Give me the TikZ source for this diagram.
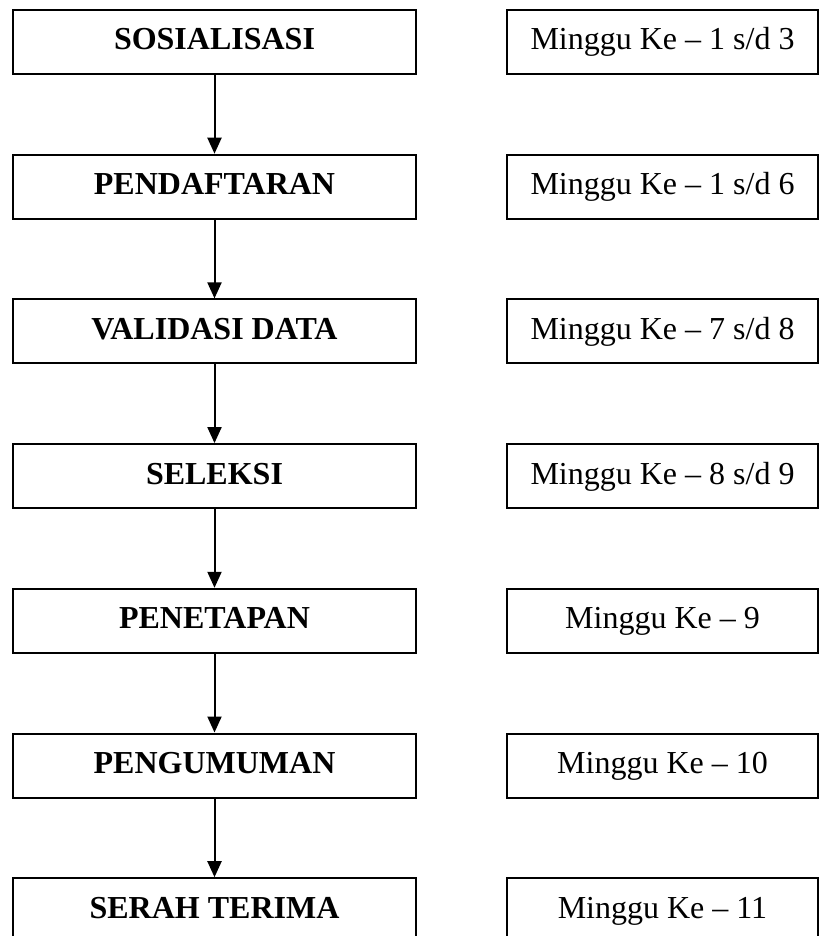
\documentclass[tikz,border=0pt]{standalone}
\usepackage{fontspec}
\setmainfont{Liberation Serif}
\usetikzlibrary{arrows.meta}
\tikzset{>={Triangle[width=7pt,length=8pt]}}
\tikzset{
  tahap/.style={draw, line width=1pt, minimum width=201.5pt, minimum height=32pt,
    inner sep=0pt, text height=11pt, text depth=3pt,
    font=\fontsize{16}{19}\selectfont\bfseries},
  waktu/.style={draw, line width=1pt, minimum width=155.5pt, minimum height=32pt,
    inner sep=0pt, text height=11pt, text depth=3pt,
    font=\fontsize{16}{19}\selectfont},
}

\begin{document}
\begin{tikzpicture}[x=1pt,y=-1pt]
\def\D{72.35}
\useasboundingbox (0,0) rectangle (409.5,468);
  % stages on the left, weeks on the right
  \foreach \i/\tahapan/\minggu in {1/SOSIALISASI/{1 s/d 3},
                                   2/PENDAFTARAN/{1 s/d 6},
                                   3/VALIDASI DATA/{7 s/d 8},
                                   4/SELEKSI/{8 s/d 9},
                                   5/PENETAPAN/{9},
                                   6/PENGUMUMAN/{10},
                                   7/SERAH TERIMA/{11}}
    {
    \node[tahap] (t\i) at (107.25, {21+(\i-1)*\D}) {\tahapan};
    \node[waktu] (m\i) at (331.25, {21+(\i-1)*\D}) {Minggu Ke – \minggu};
    }

  % arrows between stages
  \foreach \i [evaluate=\i as \j using int(\i+1)] in {1,...,6}
    \draw[->, line width=1pt] (t\i.south) -- (t\j.north);
\end{tikzpicture}
\end{document}
